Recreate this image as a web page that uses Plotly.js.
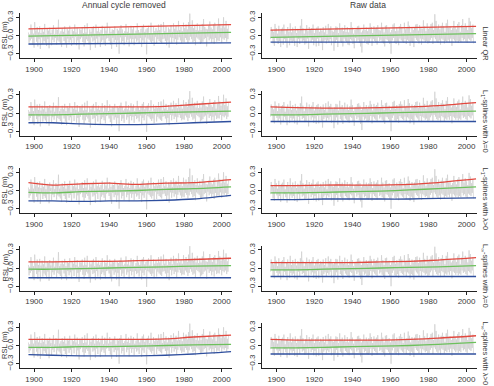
<!DOCTYPE html>
<html>
<head>
<meta charset="utf-8">
<script src="https://cdn.plot.ly/plotly-3.0.1.min.js"></script>
<style>
  html, body { margin: 0; padding: 0; background: #fff; }
  #chart { width: 494px; height: 386px; }
</style>
</head>
<body>
<div id="chart"></div>
<script>
// Monthly-ish sea level record, sampled three times per year from 1897
const startYear = 1897;
const samplesPerYear = 3;

// Relative sea level with the annual cycle removed (m)
const rslDeseasonal = [
  0.05,-0.12,0.02, -0.08,0.18,-0.05, 0.10,-0.15,0.03, -0.20,0.22,-0.02, 0.08,-0.10,0.14,
  -0.18,0.05,-0.06, 0.15,-0.22,0.04, -0.03,0.12,-0.14, 0.06,-0.09,0.19, -0.12,0.02,-0.17,
  0.11,-0.06,0.08, -0.21,0.13,-0.01, 0.04,-0.16,0.10, -0.07,0.17,-0.11, 0.02,-0.04,0.12,
  -0.15,0.09,-0.08, 0.26,-0.10,0.03, -0.13,0.07,-0.19, 0.12,-0.02,0.06, -0.09,0.15,-0.14,
  0.03,-0.20,0.11, -0.05,0.08,-0.12, 0.16,-0.07,0.01, -0.17,0.10,-0.04, 0.07,-0.13,0.18,
  -0.02,0.05,-0.16, 0.13,-0.08,0.02, -0.23,0.11,-0.06, 0.09,-0.03,0.14, -0.11,0.04,-0.18,
  0.17,-0.12,0.05, -0.06,0.20,-0.09, 0.01,-0.15,0.10, -0.24,0.06,-0.03, 0.12,-0.10,0.15,
  -0.08,0.03,-0.20, 0.18,-0.05,0.07, -0.14,0.12,-0.02, 0.05,-0.19,0.09, -0.10,0.16,-0.07,
  0.02,-0.12,0.13, -0.17,0.08,-0.05, 0.21,-0.04,0.03, -0.09,0.14,-0.15, 0.06,-0.22,0.10,
  -0.04,0.09,-0.11, 0.15,-0.07,0.02, -0.19,0.11,-0.08, 0.08,-0.30,0.12, -0.03,0.17,-0.13,
  0.10,-0.09,0.04, -0.16,0.07,-0.02, 0.19,-0.11,0.06, -0.07,0.13,-0.18, 0.04,-0.05,0.16,
  -0.12,0.10,-0.06, 0.14,-0.16,0.03, -0.05,0.08,-0.10, 0.20,-0.08,0.09, -0.14,0.05,-0.04,
  0.11,-0.19,0.15, -0.08,0.18,-0.12, 0.06,-0.03,0.10, -0.31,0.12,-0.05, 0.16,-0.07,0.04,
  -0.10,0.21,-0.13, 0.03,-0.09,0.14, -0.17,0.07,-0.02, 0.12,-0.14,0.08, -0.06,0.18,-0.09,
  0.09,-0.11,0.19, -0.13,0.04,-0.06, 0.22,-0.05,0.07, -0.09,0.15,-0.16, 0.05,-0.08,0.13,
  -0.20,0.10,-0.03, 0.17,-0.12,0.06, -0.04,0.20,-0.10, 0.11,-0.06,0.16, -0.15,0.08,-0.07,
  0.24,-0.03,0.09, -0.08,0.14,-0.12, 0.07,-0.10,0.21, -0.11,0.12,-0.04, 0.18,-0.07,0.10,
  -0.13,0.22,-0.08, 0.36,-0.02,0.14, -0.06,0.25,-0.11, 0.12,-0.09,0.17, -0.16,0.09,-0.03,
  0.20,-0.05,0.08, -0.07,0.16,-0.14, 0.09,-0.12,0.19, -0.10,0.27,-0.06, 0.14,-0.04,0.11,
  -0.18,0.10,-0.02, 0.16,-0.08,0.23, -0.05,0.13,-0.12, 0.10,-0.06,0.18, -0.14,0.21,-0.04,
  0.07,-0.10,0.15, -0.08,0.28,-0.09, 0.19,-0.03,0.12, -0.12,0.16,-0.05, 0.30,-0.07,0.13,
  -0.04,0.24,-0.10, 0.11,-0.06,0.17
];

// Relative sea level, raw record (m)
const rslRaw = [
  -0.06,0.14,-0.02, 0.09,-0.13,0.06, -0.17,0.19,-0.04, 0.12,-0.08,0.03, -0.14,0.16,-0.09,
  0.07,-0.19,0.11, -0.03,0.13,-0.15, 0.18,-0.06,0.02, -0.11,0.09,-0.20, 0.14,-0.04,0.06,
  -0.16,0.20,-0.08, 0.05,-0.12,0.13, -0.09,0.07,-0.17, 0.15,-0.02,0.04, -0.19,0.11,-0.06,
  0.08,-0.14,0.16, -0.05,0.27,-0.10, 0.12,-0.08,0.03, -0.15,0.10,-0.13, 0.17,-0.05,0.07,
  -0.22,0.14,-0.03, 0.09,-0.11,0.12, -0.07,0.18,-0.16, 0.04,-0.09,0.10, -0.18,0.13,-0.05,
  0.15,-0.17,0.06, -0.04,0.11,-0.12, 0.08,-0.24,0.14, -0.10,0.05,-0.07, 0.16,-0.13,0.02,
  -0.08,0.19,-0.11, 0.11,-0.06,0.15, -0.16,0.08,-0.02, 0.06,-0.25,0.09, -0.12,0.15,-0.07,
  0.14,-0.19,0.04, -0.03,0.20,-0.10, 0.10,-0.12,0.13, -0.18,0.07,-0.05, 0.17,-0.09,0.06,
  -0.11,0.14,-0.15, 0.05,-0.16,0.11, -0.06,0.22,-0.08, 0.13,-0.14,0.03, -0.21,0.09,-0.04,
  0.10,-0.10,0.15, -0.07,0.16,-0.12, 0.12,-0.18,0.05, -0.28,0.08,-0.06, 0.18,-0.11,0.09,
  -0.09,0.13,-0.14, 0.07,-0.15,0.12, -0.12,0.20,-0.05, 0.14,-0.17,0.04, -0.06,0.15,-0.09,
  0.11,-0.11,0.13, -0.15,0.17,-0.03, 0.09,-0.09,0.08, -0.07,0.21,-0.11, 0.13,-0.13,0.05,
  -0.18,0.16,-0.06, 0.17,-0.07,0.10, -0.10,0.12,-0.14, 0.05,-0.30,0.09, -0.08,0.18,-0.04,
  0.20,-0.12,0.07, -0.14,0.13,-0.10, 0.08,-0.16,0.15, -0.05,0.19,-0.08, 0.14,-0.10,0.04,
  -0.12,0.21,-0.06, 0.10,-0.14,0.12, -0.07,0.23,-0.09, 0.16,-0.17,0.05, -0.10,0.14,-0.12,
  0.09,-0.19,0.13, -0.04,0.18,-0.07, 0.19,-0.09,0.08, -0.13,0.17,-0.05, 0.12,-0.15,0.11,
  -0.06,0.25,-0.08, 0.15,-0.11,0.07, -0.09,0.20,-0.13, 0.11,-0.12,0.14, -0.07,0.19,-0.04,
  0.21,-0.14,0.09, -0.03,0.35,-0.06, 0.24,-0.10,0.12, -0.12,0.18,-0.08, 0.10,-0.15,0.16,
  -0.05,0.21,-0.07, 0.15,-0.13,0.06, -0.09,0.20,-0.11, 0.26,-0.07,0.13, -0.11,0.15,-0.05,
  0.09,-0.17,0.12, -0.06,0.24,-0.08, 0.14,-0.11,0.10, -0.08,0.19,-0.12, 0.22,-0.09,0.06,
  -0.11,0.17,-0.04, 0.27,-0.08,0.13, -0.06,0.20,-0.10, 0.15,-0.12,0.09, -0.05,0.29,-0.07,
  0.23,-0.09,0.12, -0.04,0.18,-0.13
];

// Years at which the fitted quantile curves are evaluated
const linearYears = [1897, 2005];
const splineYears = [1897, 1910, 1925, 1940, 1955, 1970, 1985, 2005];

// Fitted quantile curves (upper / median / lower), annual cycle removed
const desLinUpper = [0.11, 0.18];
const desLinMedian = [-0.01, 0.05];
const desLinLower = [-0.14, -0.12];
const desL1FlatUpper = [0.10, 0.10, 0.10, 0.10, 0.10, 0.11, 0.14, 0.18];
const desL1FlatMedian = [-0.03, -0.03, -0.02, -0.01, 0.00, 0.01, 0.02, 0.03];
const desL1FlatLower = [-0.16, -0.16, -0.18, -0.19, -0.19, -0.18, -0.16, -0.14];
const desL1PenUpper = [0.13, 0.09, 0.11, 0.12, 0.10, 0.12, 0.13, 0.18];
const desL1PenMedian = [-0.03, -0.04, -0.02, -0.01, 0.00, 0.02, 0.03, 0.06];
const desL1PenLower = [-0.17, -0.17, -0.18, -0.17, -0.17, -0.16, -0.14, -0.08];
const desLinfFlatUpper = [0.10, 0.10, 0.11, 0.11, 0.12, 0.13, 0.14, 0.16];
const desLinfFlatMedian = [-0.02, -0.02, -0.01, 0.00, 0.01, 0.02, 0.03, 0.04];
const desLinfFlatLower = [-0.16, -0.16, -0.16, -0.16, -0.16, -0.16, -0.16, -0.16];
const desLinfPenUpper = [0.10, 0.10, 0.10, 0.10, 0.10, 0.11, 0.14, 0.17];
const desLinfPenMedian = [-0.03, -0.03, -0.02, -0.02, -0.01, 0.00, 0.01, 0.02];
const desLinfPenLower = [-0.15, -0.16, -0.17, -0.17, -0.17, -0.16, -0.14, -0.10];

// Fitted quantile curves (upper / median / lower), raw record
const rawLinUpper = [0.09, 0.15];
const rawLinMedian = [-0.03, 0.03];
const rawLinLower = [-0.11, -0.11];
const rawL1FlatUpper = [0.10, 0.09, 0.08, 0.08, 0.09, 0.10, 0.12, 0.17];
const rawL1FlatMedian = [-0.03, -0.03, -0.02, -0.01, 0.00, 0.01, 0.02, 0.03];
const rawL1FlatLower = [-0.14, -0.14, -0.14, -0.14, -0.14, -0.14, -0.14, -0.14];
const rawL1PenUpper = [0.08, 0.08, 0.09, 0.09, 0.09, 0.10, 0.13, 0.19];
const rawL1PenMedian = [-0.04, -0.04, -0.03, -0.02, -0.01, 0.01, 0.03, 0.06];
const rawL1PenLower = [-0.15, -0.15, -0.14, -0.14, -0.14, -0.14, -0.13, -0.12];
const rawLinfFlatUpper = [0.09, 0.09, 0.09, 0.09, 0.10, 0.11, 0.13, 0.17];
const rawLinfFlatMedian = [-0.03, -0.03, -0.02, -0.01, 0.00, 0.01, 0.02, 0.04];
const rawLinfFlatLower = [-0.14, -0.14, -0.14, -0.14, -0.14, -0.14, -0.14, -0.14];
const rawLinfPenUpper = [0.10, 0.09, 0.09, 0.09, 0.09, 0.10, 0.12, 0.16];
const rawLinfPenMedian = [-0.04, -0.04, -0.03, -0.02, -0.01, 0.00, 0.02, 0.05];
const rawLinfPenLower = [-0.14, -0.14, -0.14, -0.14, -0.14, -0.14, -0.14, -0.14];

const columnTitles = ["Annual cycle removed", "Raw data"];
const rowLabels = [
  "Linear QR",
  "L<sub>1</sub>-splines with λ=0",
  "L<sub>1</sub>-splines with λ>0",
  "L<sub>∞</sub>-splines with λ=0",
  "L<sub>∞</sub>-splines with λ>0"
];
const xTickYears = [1900, 1920, 1940, 1960, 1980, 2000];
const yTickVals = [-0.3, 0.0, 0.3];
const yTickText = ["−0.3", "0.0", "0.3"];

const rowFits = [
  { years: linearYears, cols: [[desLinUpper, desLinMedian, desLinLower], [rawLinUpper, rawLinMedian, rawLinLower]], shape: "linear" },
  { years: splineYears, cols: [[desL1FlatUpper, desL1FlatMedian, desL1FlatLower], [rawL1FlatUpper, rawL1FlatMedian, rawL1FlatLower]], shape: "spline" },
  { years: splineYears, cols: [[desL1PenUpper, desL1PenMedian, desL1PenLower], [rawL1PenUpper, rawL1PenMedian, rawL1PenLower]], shape: "spline" },
  { years: splineYears, cols: [[desLinfFlatUpper, desLinfFlatMedian, desLinfFlatLower], [rawLinfFlatUpper, rawLinfFlatMedian, rawLinfFlatLower]], shape: "spline" },
  { years: splineYears, cols: [[desLinfPenUpper, desLinfPenMedian, desLinfPenLower], [rawLinfPenUpper, rawLinfPenMedian, rawLinfPenLower]], shape: "spline" }
];

const W = 494, H = 386;
const fitColors = ["#e2483f", "#6cc05c", "#2f4f9e"];
const textColor = "#3a3a3a";
const font = "Liberation Sans, Arial, sans-serif";

// Panel geometry in pixels
const colLeft = [20, 262], colRight = [232, 477];
const rowTop0 = 13, rowHeight = 45, rowStep = 77.5;

const grayX = rslDeseasonal.map((_, i) => startYear + i / samplesPerYear);
const grayY = [rslDeseasonal, rslRaw];

const traces = [];
const layout = {
  width: W, height: H,
  margin: { l: 0, r: 0, t: 0, b: 0 },
  paper_bgcolor: "#fff", plot_bgcolor: "#fff",
  showlegend: false,
  font: { family: font, color: textColor, size: 8 },
  annotations: []
};

for (let r = 0; r < 5; r++) {
  for (let c = 0; c < 2; c++) {
    const n = r * 2 + c + 1;
    const xa = "x" + (n === 1 ? "" : n), ya = "y" + (n === 1 ? "" : n);
    traces.push({
      x: grayX, y: grayY[c], xaxis: xa, yaxis: ya, type: "scatter", mode: "lines",
      line: { color: "#cfcfcf", width: 0.7 }, hoverinfo: "skip"
    });
    const fits = rowFits[r].cols[c];
    fits.forEach((vals, k) => {
      traces.push({
        x: rowFits[r].years, y: vals, xaxis: xa, yaxis: ya, type: "scatter", mode: "lines",
        line: { color: fitColors[k], width: 1.3, shape: rowFits[r].shape, smoothing: 0.8 }
      });
    });
    const top = rowTop0 + r * rowStep, bottom = top + rowHeight;
    const axX = {
      domain: [colLeft[c] / W, colRight[c] / W],
      anchor: ya, range: [1892.5, 2005.5],
      showgrid: false, zeroline: false, showline: true, linecolor: "#222", linewidth: 1,
      ticks: "outside", ticklen: 3, tickcolor: "#222", tickvals: xTickYears,
      tickfont: { size: 8, color: textColor, family: font }
    };
    const axY = {
      domain: [1 - bottom / H, 1 - top / H],
      anchor: xa, range: [-0.37, 0.37],
      showgrid: false, zeroline: false, showline: true, linecolor: "#222", linewidth: 1,
      ticks: "outside", ticklen: 3, tickcolor: "#222",
      tickvals: yTickVals, ticktext: yTickText, tickangle: -90,
      tickfont: { size: 8, color: textColor, family: font }
    };
    layout["xaxis" + (n === 1 ? "" : n)] = axX;
    layout["yaxis" + (n === 1 ? "" : n)] = axY;

    if (c === 0) {
      layout.annotations.push({
        text: "RSL (m)", xref: "paper", yref: "paper", textangle: -90,
        x: 4.5 / W, y: 1 - (top + rowHeight / 2) / H, xanchor: "center", yanchor: "middle",
        showarrow: false, font: { size: 7.5, color: textColor, family: font }
      });
    } else {
      layout.annotations.push({
        text: rowLabels[r], xref: "paper", yref: "paper", textangle: 90,
        x: 485 / W, y: 1 - (top + rowHeight / 2 + 8) / H, xanchor: "center", yanchor: "middle",
        showarrow: false, font: { size: 7.5, color: textColor, family: font }
      });
    }
  }
}

columnTitles.forEach((t, c) => {
  layout.annotations.push({
    text: t, xref: "paper", yref: "paper",
    x: ((colLeft[c] + colRight[c]) / 2 - 2) / W, y: 1 - 5 / H, xanchor: "center", yanchor: "middle",
    showarrow: false, font: { size: 8.5, color: textColor, family: font }
  });
});

Plotly.newPlot("chart", traces, layout, { displayModeBar: false, staticPlot: true });
</script>
</body>
</html>
